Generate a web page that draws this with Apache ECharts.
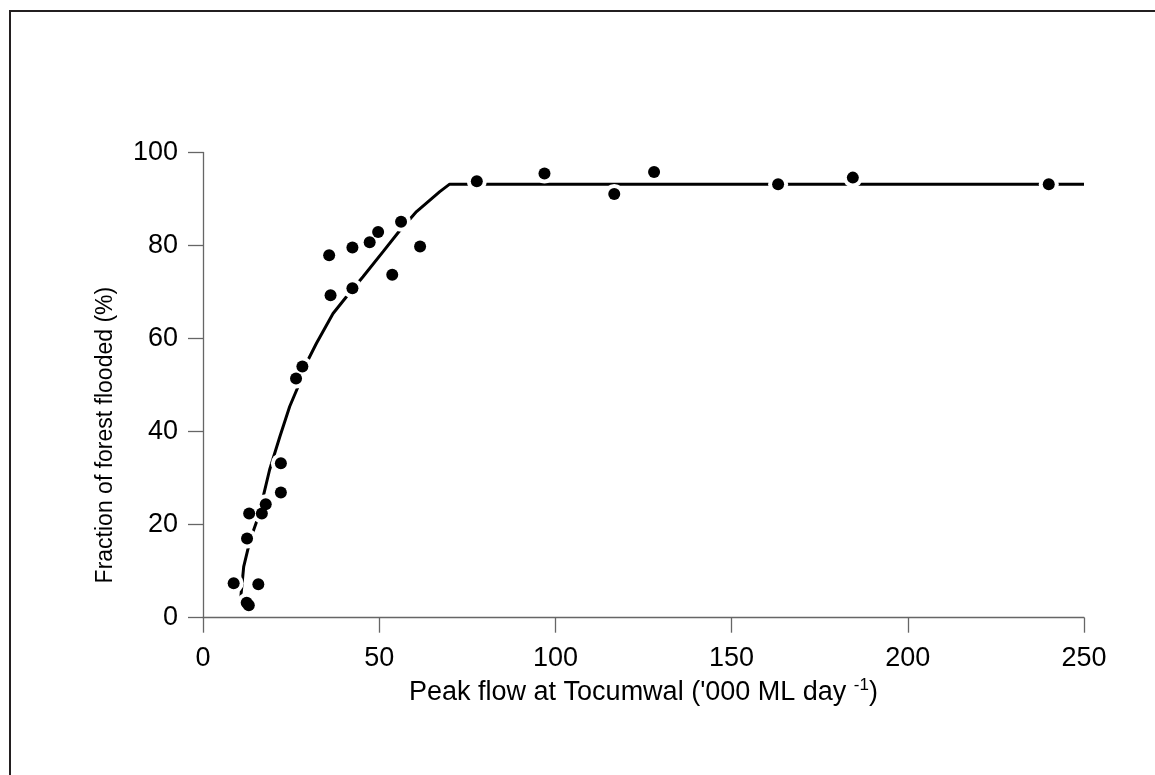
<!DOCTYPE html>
<html>
<head>
<meta charset="utf-8">
<script src="https://cdn.jsdelivr.net/npm/echarts@6/dist/echarts.min.js"></script>
<style>
html,body{margin:0;padding:0;background:#fff;}
#chart{width:1155px;height:775px;}
</style>
</head>
<body>
<div id="chart"></div>
<script>
// Observed points: peak flow ('000 ML/day) and fraction flooded (%)
const flowX  = [8.7, 12.5, 13.1, 16.7, 17.8, 12.4, 13.0, 15.7, 22.1, 22.1, 26.4, 28.2, 35.8, 36.2, 42.4, 42.4, 47.3, 49.7, 53.7, 56.2, 61.6, 77.7, 96.9, 116.7, 128.0, 163.2, 184.4, 240.0];
const floodY = [7.4, 17.0, 22.4, 22.4, 24.4, 3.2, 2.7, 7.2, 33.2, 26.9, 51.4, 54.0, 77.9, 69.3, 79.6, 70.8, 80.7, 82.9, 73.7, 85.1, 79.8, 93.8, 95.5, 91.1, 95.8, 93.2, 94.6, 93.2];
// Fitted curve
const curveX = [10.6, 11.55, 12.8, 13.7, 15.2, 17.2, 18.9, 21.8, 24.6, 27.0, 29.8, 32.2, 36.9, 40.7, 45.4, 51.1, 55.4, 60.6, 67.2, 70.0, 250];
const curveY = [3.4, 11.0, 14.9, 17.4, 20.6, 26.4, 31.8, 38.9, 45.4, 49.7, 55.4, 59.0, 65.4, 69.0, 73.3, 78.7, 82.8, 87.3, 91.6, 93.2, 93.2];
const xTickStep = 50, yTickStep = 20;
const xTitle = "Peak flow at Tocumwal ('000 ML day ";
const xTitleSup = "-1";
const yTitle = "Fraction of forest flooded (%)";

const pts = flowX.map((x, i) => [x, floodY[i]]);
const curve = curveX.map((x, i) => [x, curveY[i]]);

const FONT = 'Liberation Sans';
const chart = echarts.init(document.getElementById('chart'), null, {renderer: 'canvas'});
chart.setOption({
  animation: false,
  backgroundColor: '#ffffff',
  graphic: [{
    type: 'rect', silent: true, z: -10,
    shape: {x: 10, y: 11, width: 2000, height: 2000},
    style: {fill: null, stroke: '#231f20', lineWidth: 2}
  }],
  grid: {left: 203, right: 71, top: 152.5, bottom: 157.3, containLabel: false},
  xAxis: {
    type: 'value', min: 0, max: 250, interval: xTickStep,
    splitLine: {show: false},
    axisLine: {show: true, onZero: false, lineStyle: {color: '#666', width: 1.3}},
    axisTick: {show: true, inside: false, length: 15, lineStyle: {color: '#666', width: 1.3}},
    axisLabel: {color: '#000', fontFamily: FONT, fontSize: 27, margin: 27},
    name: '{b|' + xTitle + '}{s|' + xTitleSup + '}{b|)}',
    nameLocation: 'middle', nameGap: 54,
    nameTextStyle: {
      rich: {
        b: {fontFamily: FONT, fontSize: 27, color: '#000', lineHeight: 32, verticalAlign: 'bottom'},
        s: {fontFamily: FONT, fontSize: 17, color: '#000', lineHeight: 32, verticalAlign: 'bottom', padding: [0, 0, 12, 0]}
      }
    }
  },
  yAxis: {
    type: 'value', min: 0, max: 100, interval: yTickStep,
    splitLine: {show: false},
    axisLine: {show: true, onZero: false, lineStyle: {color: '#666', width: 1.3}},
    axisTick: {show: true, inside: false, length: 15, lineStyle: {color: '#666', width: 1.3}},
    axisLabel: {color: '#000', fontFamily: FONT, fontSize: 27, margin: 25},
    name: yTitle, nameLocation: 'middle', nameGap: 86, nameRotate: 90,
    nameTextStyle: {color: '#000', fontFamily: FONT, fontSize: 23, padding: [0, 100, 0, 0]}
  },
  series: [
    {
      type: 'line', data: curve, showSymbol: false, symbol: 'none', z: 1,
      lineStyle: {color: '#000', width: 3}, silent: true
    },
    {
      type: 'scatter', data: pts, symbol: 'circle', symbolSize: 20, z: 2,
      itemStyle: {color: '#fff', opacity: 1}, silent: true
    },
    {
      type: 'scatter', data: pts, symbol: 'circle', symbolSize: 12, z: 3,
      itemStyle: {color: '#000', opacity: 1}, silent: true
    }
  ]
});
</script>
</body>
</html>
